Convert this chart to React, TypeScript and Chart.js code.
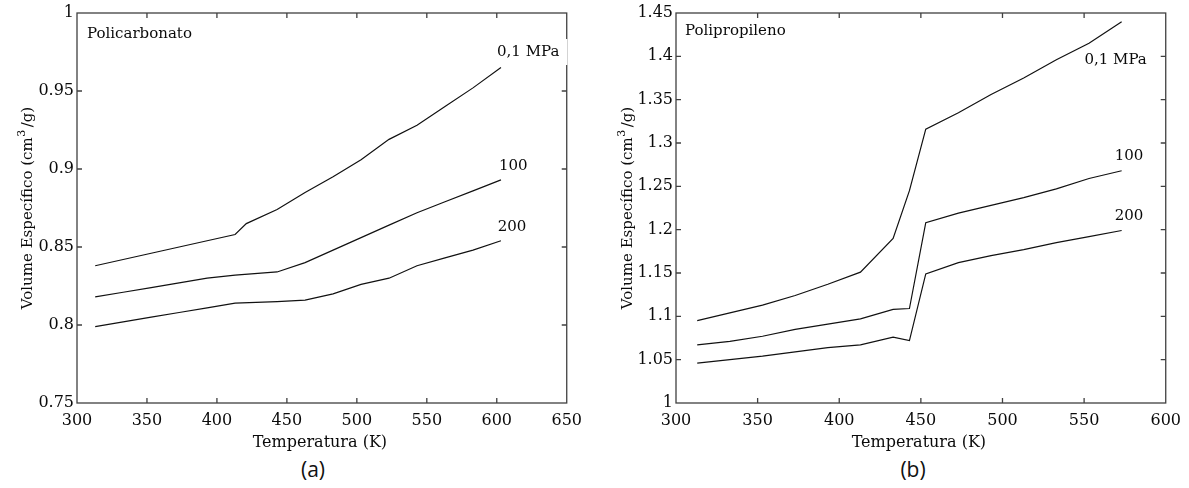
import React, { useEffect, useRef } from "react";
import { Chart, registerables } from "chart.js";

Chart.register(...registerables);

// ---------- Data: Policarbonato (a) ----------
const pcTemp01 = [313, 333, 353, 373, 393, 413, 421, 443, 463, 483, 503, 523, 543, 563, 583, 603];
const pcVol01 = [0.838, 0.842, 0.846, 0.850, 0.854, 0.858, 0.865, 0.874, 0.885, 0.895, 0.906, 0.919, 0.928, 0.940, 0.952, 0.965];
const pcTemp = [313, 333, 353, 373, 393, 413, 443, 463, 483, 503, 523, 543, 563, 583, 603];
const pcVol100 = [0.818, 0.821, 0.824, 0.827, 0.830, 0.832, 0.834, 0.840, 0.848, 0.856, 0.864, 0.872, 0.879, 0.886, 0.893];
const pcVol200 = [0.799, 0.802, 0.805, 0.808, 0.811, 0.814, 0.815, 0.816, 0.820, 0.826, 0.830, 0.838, 0.843, 0.848, 0.854];

// ---------- Data: Polipropileno (b) ----------
const ppTemp = [313, 333, 353, 373, 393, 413, 433, 443, 453, 473, 493, 513, 533, 553, 573];
const ppVol01 = [1.095, 1.104, 1.113, 1.124, 1.137, 1.151, 1.190, 1.245, 1.316, 1.335, 1.356, 1.375, 1.396, 1.415, 1.440];
const ppVol100 = [1.067, 1.071, 1.077, 1.085, 1.091, 1.097, 1.108, 1.109, 1.208, 1.219, 1.228, 1.237, 1.247, 1.259, 1.268];
const ppVol200 = [1.046, 1.050, 1.054, 1.059, 1.064, 1.067, 1.076, 1.072, 1.149, 1.162, 1.170, 1.177, 1.185, 1.192, 1.199];

// ---------- Text ----------
const seriesLabels = ["0,1 MPa", "100", "200"];
const xTitle = "Temperatura (K)";
const yTitleMain = "Volume Específico (cm";
const yTitleSup = "3";
const yTitleEnd = "/g)";

const SERIF = "'DejaVu Serif', serif";
const LINE_COLOR = "#111";
const AXIS_COLOR = "#404040";
const TEXT_COLOR = "#0a0a0a";

type Label = { text: string; x: number; y: number; bg?: boolean };

const pts = (xs: number[], ys: number[]) => xs.map((x, i) => ({ x, y: ys[i] }));
const fmt = (v: any) => String(Number(Number(v).toFixed(4)));

const framePlugin = {
  id: "frame",
  afterDatasetsDraw(chart: any) {
    const { ctx, chartArea: a, scales } = chart;
    const x = scales.x;
    const y = scales.y;
    ctx.save();
    ctx.strokeStyle = AXIS_COLOR;
    ctx.lineWidth = 1.3;
    ctx.strokeRect(a.left, a.top, a.right - a.left, a.bottom - a.top);
    ctx.beginPath();
    const L = 5;
    x.ticks.forEach((t: any) => {
      const px = x.getPixelForValue(t.value);
      if (px <= a.left + 1 || px >= a.right - 1) return;
      ctx.moveTo(px, a.bottom);
      ctx.lineTo(px, a.bottom - L);
      ctx.moveTo(px, a.top);
      ctx.lineTo(px, a.top + L);
    });
    y.ticks.forEach((t: any) => {
      const py = y.getPixelForValue(t.value);
      if (py <= a.top + 1 || py >= a.bottom - 1) return;
      ctx.moveTo(a.left, py);
      ctx.lineTo(a.left + L, py);
      ctx.moveTo(a.right, py);
      ctx.lineTo(a.right - L, py);
    });
    ctx.stroke();
    ctx.restore();
  },
  afterDraw(chart: any) {
    const { ctx, chartArea: a, scales } = chart;
    const o = chart.options.plugins.frame;
    const x = scales.x;
    const y = scales.y;
    ctx.save();
    ctx.font = `15px ${SERIF}`;
    ctx.textBaseline = "middle";
    ctx.textAlign = "left";
    (o.labels as Label[]).forEach((l) => {
      const px = x.getPixelForValue(l.x);
      const py = y.getPixelForValue(l.y);
      const w = ctx.measureText(l.text).width;
      if (l.bg) {
        ctx.fillStyle = "#fff";
        ctx.fillRect(px - 2, py - 13, w + 10, 26);
      }
      ctx.fillStyle = TEXT_COLOR;
      ctx.fillText(l.text, px, py);
    });
    // panel title
    ctx.fillStyle = TEXT_COLOR;
    ctx.fillText(o.panelTitle, a.left + o.panelDx, a.top + o.panelDy);
    // x title
    ctx.font = `16px ${SERIF}`;
    ctx.textAlign = "center";
    ctx.textBaseline = "alphabetic";
    ctx.fillText(xTitle, (a.left + a.right) / 2 - 2, o.xTitleY);
    // y title (rotated) with superscript
    ctx.translate(o.yTitleX, (a.top + a.bottom) / 2);
    ctx.rotate(-Math.PI / 2);
    ctx.textAlign = "left";
    const mainFont = `15px ${SERIF}`;
    const supFont = `11px ${SERIF}`;
    ctx.font = mainFont;
    const w1 = ctx.measureText(yTitleMain).width;
    const w3 = ctx.measureText(yTitleEnd).width;
    ctx.font = supFont;
    const w2 = ctx.measureText(yTitleSup).width + 3;
    const total = w1 + w2 + w3;
    let u = -total / 2;
    ctx.font = mainFont;
    ctx.fillText(yTitleMain, u, 0);
    u += w1;
    ctx.font = supFont;
    ctx.fillText(yTitleSup, u + 0.5, -7);
    u += w2;
    ctx.font = mainFont;
    ctx.fillText(yTitleEnd, u, 0);
    ctx.restore();
  },
};

function makeConfig(opts: {
  datasets: { x: number[]; y: number[] }[];
  xMin: number;
  xMax: number;
  yMin: number;
  yMax: number;
  yWidth: number;
  labels: Label[];
  panelTitle: string;
  panelDx: number;
  panelDy: number;
  yTitleX: number;
}): any {
  const tickFont = { family: SERIF, size: 16 };
  return {
    type: "line",
    data: {
      datasets: opts.datasets.map((d) => ({
        data: pts(d.x, d.y),
        borderColor: LINE_COLOR,
        borderWidth: 1.2,
        pointRadius: 0,
        tension: 0,
        fill: false,
      })),
    },
    options: {
      animation: false,
      responsive: false,
      maintainAspectRatio: false,
      parsing: false,
      layout: { padding: { left: 0, top: 13, right: 17, bottom: 0 } },
      plugins: {
        legend: { display: false },
        tooltip: { enabled: false },
        frame: {
          labels: opts.labels,
          panelTitle: opts.panelTitle,
          panelDx: opts.panelDx,
          panelDy: opts.panelDy,
          yTitleX: opts.yTitleX,
          xTitleY: 446.5,
        },
      },
      scales: {
        x: {
          type: "linear",
          min: opts.xMin,
          max: opts.xMax,
          ticks: { stepSize: 50, padding: 8, color: TEXT_COLOR, font: tickFont, maxRotation: 0, autoSkip: false, callback: fmt },
          grid: { display: false, drawTicks: false },
          border: { display: false },
          afterFit: (s: any) => {
            s.height = 52;
          },
        },
        y: {
          type: "linear",
          min: opts.yMin,
          max: opts.yMax,
          ticks: { stepSize: 0.05, padding: 3, color: TEXT_COLOR, font: tickFont, autoSkip: false, callback: fmt },
          grid: { display: false, drawTicks: false },
          border: { display: false },
          afterFit: (s: any) => {
            s.width = opts.yWidth;
          },
        },
      },
    },
    plugins: [framePlugin],
  };
}

function ChartCanvas({ config, width, height, left }: { config: any; width: number; height: number; left: number }) {
  const ref = useRef<HTMLCanvasElement | null>(null);
  useEffect(() => {
    if (!ref.current) return;
    const chart = new Chart(ref.current, config);
    return () => chart.destroy();
  }, []);
  return (
    <canvas
      ref={ref}
      width={width}
      height={height}
      style={{ position: "absolute", left, top: 0, width, height }}
    />
  );
}

export default function App() {
  const cfgA = makeConfig({
    datasets: [
      { x: pcTemp01, y: pcVol01 },
      { x: pcTemp, y: pcVol100 },
      { x: pcTemp, y: pcVol200 },
    ],
    xMin: 300,
    xMax: 650,
    yMin: 0.75,
    yMax: 1,
    yWidth: 77,
    labels: [
      { text: seriesLabels[0], x: 600.2, y: 0.975, bg: true },
      { text: seriesLabels[1], x: 601.6, y: 0.9017 },
      { text: seriesLabels[2], x: 600.7, y: 0.8626 },
    ],
    panelTitle: "Policarbonato",
    panelDx: 10,
    panelDy: 21,
    yTitleX: 32,
  });
  const cfgB = makeConfig({
    datasets: [
      { x: ppTemp, y: ppVol01 },
      { x: ppTemp, y: ppVol100 },
      { x: ppTemp, y: ppVol200 },
    ],
    xMin: 300,
    xMax: 600,
    yMin: 1,
    yMax: 1.45,
    yWidth: 86,
    labels: [
      { text: seriesLabels[0], x: 550.2, y: 1.396 },
      { text: seriesLabels[1], x: 568.7, y: 1.2845 },
      { text: seriesLabels[2], x: 568.7, y: 1.2153 },
    ],
    panelTitle: "Polipropileno",
    panelDx: 9,
    panelDy: 18.5,
    yTitleX: 42,
  });
  const capStyle: React.CSSProperties = {
    position: "absolute",
    top: 455,
    width: 60,
    textAlign: "center",
    fontFamily: "'Open Sans', sans-serif",
    fontSize: 21,
    lineHeight: "28px",
    color: "#111",
  };
  return (
    <div style={{ position: "absolute", left: 0, top: 0, width: 1189, height: 488, background: "#fff", overflow: "hidden" }}>
      <ChartCanvas config={cfgA} width={590} height={455} left={0} />
      <ChartCanvas config={cfgB} width={599} height={455} left={590} />
      <div style={{ ...capStyle, left: 313 - 30 }}>(a)</div>
      <div style={{ ...capStyle, left: 913 - 30 }}>(b)</div>
    </div>
  );
}
